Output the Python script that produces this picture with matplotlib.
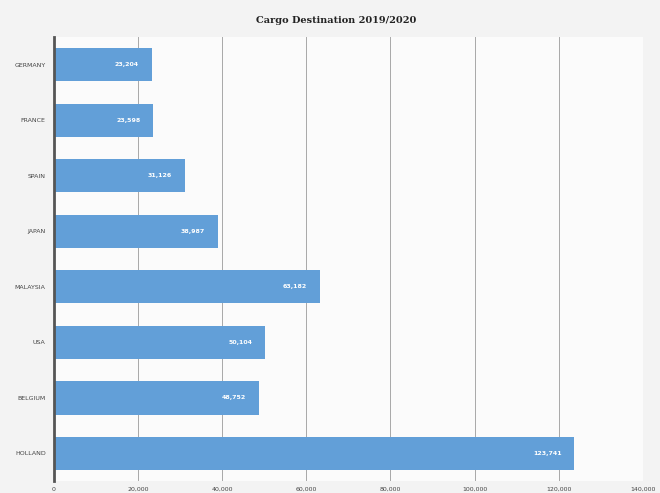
import matplotlib.pyplot as plt
from matplotlib.ticker import FuncFormatter

countries = ["GERMANY", "FRANCE", "SPAIN", "JAPAN", "MALAYSIA", "USA", "BELGIUM", "HOLLAND"]
values = [23204, 23598, 31126, 38987, 63182, 50104, 48752, 123741]
xticks = [0, 20000, 40000, 60000, 80000, 100000, 120000, 140000]

fig = plt.figure(figsize=(6.6, 4.93), dpi=100, facecolor="#f3f3f3")
ax = fig.add_axes([0.0818, 0.024, 0.892, 0.901])
ax.set_facecolor("#fbfbfb")

y = list(range(len(countries)))
ax.barh(y, values, height=0.6, color="#629fd8", zorder=3)
ax.set_ylim(len(countries) - 0.5, -0.5)
ax.set_yticks(y)
ax.set_yticklabels(countries, fontsize=4.5, color="#444444")
ax.set_xlim(0, 140000)
ax.set_xticks(xticks)
ax.xaxis.set_major_formatter(FuncFormatter(lambda v, p: f"{int(v):,}"))
ax.tick_params(axis="x", labelsize=4.5, colors="#444444", length=0, pad=4)
ax.tick_params(axis="y", length=0, pad=6)
ax.grid(axis="x", color="#a8a8a8", linewidth=0.7, zorder=0)
for s in ["top", "right", "bottom"]:
    ax.spines[s].set_visible(False)
ax.spines["left"].set_color("#555555")
ax.spines["left"].set_linewidth(2)
ax.spines["left"].set_zorder(4)

for yi, v in zip(y, values):
    ax.text(v - 3000, yi, f"{v:,}", ha="right", va="center", fontsize=4.5,
            color="white", fontweight="bold", zorder=5)

fig.text(0.51, 0.958, "Cargo Destination 2019/2020", ha="center", va="center",
         fontsize=7, fontweight="bold", family="DejaVu Serif", color="#222222")

fig.savefig("out.png", dpi=100, facecolor=fig.get_facecolor())
